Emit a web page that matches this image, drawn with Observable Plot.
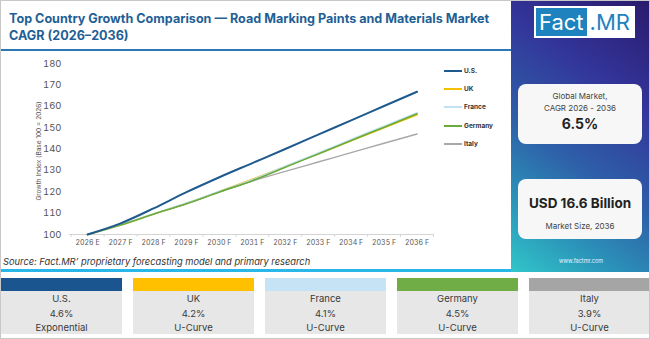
<!DOCTYPE html>
<html><head><meta charset="utf-8">
<script src="https://cdn.jsdelivr.net/npm/d3@7"></script>
<script src="https://cdn.jsdelivr.net/npm/@observablehq/plot@0.6"></script>
<style>
body{margin:0;width:650px;height:339px;overflow:hidden;font-family:Inter,"Open Sans",sans-serif;background:#fff;}
#root{position:relative;width:650px;height:339px;background:#fff;box-sizing:border-box;border:1px solid #c8c8c8;overflow:hidden;}
.abs{position:absolute;}
#title{left:8px;top:9px;width:500px;font-weight:700;font-size:12.6px;line-height:17px;color:#1f5f96;}
#rule{left:0;top:48px;width:512px;height:2px;background:#2c78b8;}
#chart{left:0;top:52px;}
#ylab{left:38px;top:150px;transform:translate(-50%,-50%) rotate(-90deg);font-size:6.5px;color:#555;white-space:nowrap;}
#legend .it{position:absolute;left:443px;height:10px;display:flex;align-items:center;font-size:6.5px;font-weight:700;color:#333;}
#legend .sw{width:18px;height:2px;margin-right:2px;}
#source{left:2px;top:255px;font-size:9.3px;font-style:italic;color:#333;}
#cyan{left:0;top:268px;width:645px;height:3px;background:#29b6e8;}
#side{left:510px;top:0;width:140px;height:271px;background:linear-gradient(215deg,#2a1a6c 0%,#33359a 30%,#2e5fa8 58%,#2b93b9 80%,#31c6c9 100%);}
#logo{left:533px;top:5px;height:28px;display:flex;border:2px solid #fff;background:#fff;font-size:22px;line-height:28px;}
#logo .a{background:#1e82bf;color:#fff;padding:0 3px;}
#logo .b{color:#1e82bf;padding:0 3px;}
.box{position:absolute;left:517px;width:124px;background:#f7f7f7;border-radius:8px;text-align:center;color:#333;}
#www{left:510px;width:140px;top:257px;text-align:center;color:#e8f4ff;font-size:5.5px;}
.card{position:absolute;top:277px;width:121px;height:56px;background:#e7e7e7;text-align:center;color:#3a3a3a;font-size:9.5px;line-height:14.5px;}
.card .bar{height:13px;}
.card .txt{padding-top:1px;}
</style></head><body><div id="root">
<div id="title" class="abs">Top Country Growth Comparison — Road Marking Paints and Materials Market CAGR (2026–2036)</div>
<div id="rule" class="abs"></div>
<div id="chart" class="abs"></div>
<div id="ylab" class="abs">Growth Index (Base 100 = 2026)</div>
<div id="legend"></div>
<div id="source" class="abs">Source: Fact.MR’ proprietary forecasting model and primary research</div>
<div id="cyan" class="abs"></div>
<div id="side" class="abs"></div>
<div id="logo" class="abs"><span class="a">Fact</span><span class="b">.MR</span></div>
<div class="box" style="top:83px;height:60px;"><div style="font-size:8px;line-height:12px;padding-top:6px;color:#444">Global Market,<br>CAGR 2026 - 2036</div><div style="font-size:14px;font-weight:700;line-height:20px;color:#222">6.5%</div></div>
<div class="box" style="top:178px;height:60px;"><div style="font-size:13.5px;font-weight:700;line-height:20px;padding-top:14px;color:#222">USD 16.6 Billion</div><div style="font-size:8px;line-height:12px;padding-top:7px;color:#444">Market Size, 2036</div></div>
<div id="www" class="abs">www.factmr.com</div>
<div id="cards"></div>
</div>
<script>
const years = ["2026 E","2027 F","2028 F","2029 F","2030 F","2031 F","2032 F","2033 F","2034 F","2035 F","2036 F"];
const countries = ["U.S.","UK","France","Germany","Italy"];
const colors = ["#1f5a8e","#f5c000","#c2e1f5","#6aab3c","#a8a8a8"];
const usValues = [100,105.2,112.2,119.8,126.8,133.4,140.0,146.7,153.4,160.1,166.8];
const ukValues = [100,104.4,109.6,114.6,120.1,125.8,131.8,137.8,143.8,149.9,156.0];
const franceValues = [100,104.5,109.7,114.7,120.2,125.6,131.9,138.1,144.4,150.7,157.0];
const germanyValues = [100,104.4,109.5,114.4,119.9,125.2,131.5,137.7,144.0,150.2,156.5];
const italyValues = [100,104.4,109.5,114.4,119.9,125.0,129.5,133.9,138.3,142.7,147.0];
const cagrLabels = ["4.6%","4.2%","4.1%","4.5%","3.9%"];
const curveLabels = ["Exponential","U-Curve","U-Curve","U-Curve","U-Curve"];
const yTicks = [100,110,120,130,140,150,160,170,180];

const series = [usValues, ukValues, franceValues, germanyValues, italyValues];
const rows = [];
series.forEach((vals, s) => vals.forEach((v, i) => rows.push({country: countries[s], i, v})));
const drawOrder = ["Italy","UK","France","Germany","U.S."];
const widths = {"U.S.":2,"UK":1.6,"France":1.6,"Germany":1.6,"Italy":1.4};

const sep = d3.range(-0.5, 11, 1);
const chart = Plot.plot({
  width: 505, height: 200,
  marginLeft: 68, marginRight: 73, marginTop: 10, marginBottom: 19,
  style: {fontFamily: "Inter, 'Open Sans', sans-serif", background: "transparent"},
  x: {domain: [-0.55, 10.5], ticks: d3.range(0, 11), tickFormat: i => years[i], tickSize: 0, tickPadding: 6, label: null},
  y: {domain: [100, 180], ticks: yTicks, tickSize: 0, tickPadding: 8, label: null},
  marks: [
    Plot.ruleY([100], {stroke: "#d4d4d4", strokeWidth: 1}),
    Plot.ruleX(sep, {y1: 100, y2: 98.7, stroke: "#d4d4d4"}),
    ...drawOrder.map(c => Plot.line(rows.filter(r => r.country === c), {
      x: "i", y: "v", stroke: colors[countries.indexOf(c)], strokeWidth: widths[c], curve: "monotone-x"
    }))
  ]
});
d3.select(chart).selectAll("[aria-label='x-axis tick label'] text").attr("font-size", 7).attr("fill", "#555");
d3.select(chart).selectAll("[aria-label='y-axis tick label'] text").attr("font-size", 9.5).attr("fill", "#555");
document.getElementById("chart").appendChild(chart);

const legendY = [70, 88, 106, 125, 143];
const lg = document.getElementById("legend");
countries.forEach((c, k) => {
  const d = document.createElement("div");
  d.className = "it";
  d.style.top = (legendY[k] - 5) + "px";
  d.innerHTML = `<span class="sw" style="background:${colors[k]}"></span><span>${c}</span>`;
  lg.appendChild(d);
});

const cardColors = ["#1a5590","#ffc000","#c6e3f6","#70ad47","#a5a5a5"];
const cardX = [0,132,264,396,528];
const cd = document.getElementById("cards");
countries.forEach((c, k) => {
  const d = document.createElement("div");
  d.className = "card";
  d.style.left = cardX[k] + "px";
  d.innerHTML = `<div class="bar" style="background:${cardColors[k]}"></div><div class="txt">${c}<br>${cagrLabels[k]}<br>${curveLabels[k]}</div>`;
  cd.appendChild(d);
});
</script>
</body></html>
